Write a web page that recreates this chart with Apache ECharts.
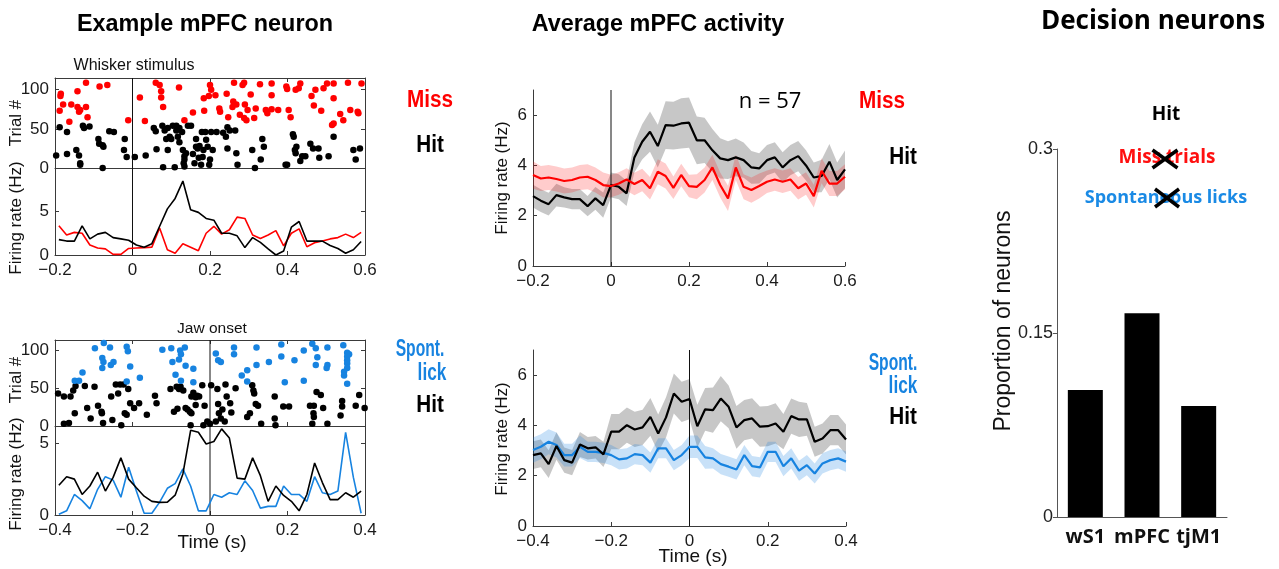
<!DOCTYPE html>
<html>
<head>
<meta charset="utf-8">
<script src="https://cdn.jsdelivr.net/npm/echarts@6/dist/echarts.min.js"></script>
<style>
  html, body { margin: 0; padding: 0; background: #fff; }
  #chart { width: 1279px; height: 569px; }
</style>
</head>
<body>
<div id="chart"></div>
<script>
// ---------- Example neuron: whisker-aligned raster (time s, trial #) ----------
const missRasterTop = [[-0.186,92],[-0.185,95],[-0.188,73],[-0.179,81],[-0.158,81],[-0.163,59],[-0.142,98],[-0.142,78],[-0.138,72],[-0.135,74],[-0.120,109],[-0.120,78],[-0.116,65],[-0.085,104],[-0.065,106],[-0.011,61],[0.019,90],[0.032,60],[0.060,109],[0.070,106],[0.074,98],[0.074,90],[0.079,78],[0.120,103],[0.134,61],[0.156,71],[0.184,89],[0.185,73],[0.197,92],[0.200,106],[0.203,100],[0.214,93],[0.224,76],[0.226,72],[0.243,95],[0.247,65],[0.258,78],[0.260,85],[0.262,109],[0.268,81],[0.277,68],[0.284,106],[0.288,109],[0.290,81],[0.297,74],[0.288,64],[0.294,61],[0.305,94],[0.314,64],[0.318,76],[0.329,107],[0.344,74],[0.348,70],[0.359,108],[0.359,93],[0.359,75],[0.376,74],[0.397,104],[0.399,101],[0.403,74],[0.408,65],[0.421,100],[0.429,102],[0.433,108],[0.462,92],[0.468,80],[0.472,100],[0.487,73],[0.493,102],[0.502,108],[0.519,108],[0.519,89],[0.519,57],[0.515,55],[0.536,69],[0.544,61],[0.556,109],[0.562,74],[0.581,72],[0.583,70],[0.591,108]];
const hitRasterTop = [[-0.197,16],[-0.188,52],[-0.169,46],[-0.169,18],[-0.145,23],[-0.138,16],[-0.135,6],[-0.135,4],[-0.128,54],[-0.125,51],[-0.111,53],[-0.088,37],[-0.086,31],[-0.077,29],[-0.075,27],[-0.077,0],[-0.060,47],[-0.048,46],[-0.020,37],[-0.022,23],[-0.015,14],[0.006,14],[0.034,16],[0.055,51],[0.060,47],[0.062,24],[0.079,1],[0.077,54],[0.083,48],[0.087,37],[0.091,23],[0.091,51],[0.096,40],[0.100,37],[0.104,54],[0.109,1],[0.113,54],[0.113,48],[0.117,40],[0.121,51],[0.121,33],[0.128,46],[0.130,23],[0.132,6],[0.134,15],[0.134,11],[0.134,2],[0.138,19],[0.143,54],[0.151,54],[0.156,18],[0.160,6],[0.164,37],[0.164,27],[0.168,25],[0.171,13],[0.173,28],[0.177,4],[0.179,46],[0.181,14],[0.183,23],[0.188,46],[0.190,36],[0.194,27],[0.198,4],[0.200,11],[0.203,46],[0.207,23],[0.217,46],[0.234,45],[0.241,40],[0.245,52],[0.245,25],[0.251,48],[0.265,48],[0.268,19],[0.271,4],[0.309,23],[0.316,0],[0.331,11],[0.335,37],[0.339,27],[0.395,4],[0.399,4],[0.414,43],[0.416,40],[0.419,23],[0.421,19],[0.423,27],[0.438,15],[0.433,9],[0.446,15],[0.459,31],[0.466,25],[0.480,25],[0.482,13],[0.506,15],[0.519,40],[0.570,23],[0.576,11],[0.587,25]];

// ---------- Example neuron: PSTH around whisker stimulus (Hz) ----------
const binsWhisker = [-0.19,-0.17,-0.15,-0.13,-0.11,-0.09,-0.07,-0.05,-0.03,-0.01,0.01,0.03,0.05,0.07,0.09,0.11,0.13,0.15,0.17,0.19,0.21,0.23,0.25,0.27,0.29,0.31,0.33,0.35,0.37,0.39,0.41,0.43,0.45,0.47,0.49,0.51,0.53,0.55,0.57,0.59];
const hitRateTop  = [1.77,1.6,1.6,3.35,1.85,2.4,2.6,2.0,1.85,1.7,1.15,0.9,1.3,3.3,5.3,6.5,8.5,5.2,4.9,4.2,4.0,2.5,2.5,2.2,0.85,2.0,1.45,0.7,0.0,0.45,3.2,3.85,1.6,1.6,1.6,1.1,0.75,0.2,0.6,1.55];
const missRateTop = [3.35,2.3,2.6,2.5,1.15,0.8,0.7,0.07,0.07,0.75,0.8,0.85,0.9,3.1,0.6,0.2,1.3,0.9,0.5,2.5,3.3,2.4,2.9,4.35,4.2,2.3,1.9,2.3,2.8,1.05,2.5,3.0,0.95,1.4,1.6,1.85,2.0,2.4,2.0,2.6];

// ---------- Example neuron: jaw-onset aligned raster ----------
const spontRasterBottom = [[-0.297,103],[-0.274,110],[-0.258,104],[-0.278,90],[-0.275,85],[-0.278,77],[-0.256,81],[-0.249,85],[-0.215,105],[-0.212,99],[-0.206,79],[-0.215,59],[-0.181,64],[-0.349,60],[-0.338,60],[-0.329,71],[-0.123,101],[-0.100,103],[-0.077,100],[-0.065,104],[-0.075,95],[-0.080,88],[-0.097,85],[-0.063,80],[-0.089,68],[-0.075,60],[-0.043,76],[-0.043,58],[0.015,96],[0.021,87],[0.028,85],[0.062,104],[0.062,95],[0.096,74],[0.082,67],[0.096,59],[0.120,104],[0.120,81],[0.152,85],[0.184,108],[0.184,92],[0.193,58],[0.218,87],[0.242,100],[0.242,60],[0.264,109],[0.273,103],[0.277,91],[0.273,81],[0.303,104],[0.303,81],[0.301,77],[0.344,107],[0.354,97],[0.359,95],[0.354,92],[0.354,87],[0.354,83],[0.354,77],[0.346,72],[0.346,67],[0.354,56]];
const hitRasterBottom = [[-0.392,43],[-0.377,39],[-0.360,39],[-0.377,3],[-0.364,4],[-0.353,47],[-0.349,17],[-0.347,53],[-0.323,53],[-0.317,24],[-0.308,10],[-0.298,52],[-0.289,27],[-0.280,19],[-0.279,17],[-0.276,4],[-0.255,39],[-0.252,8],[-0.243,55],[-0.237,43],[-0.232,55],[-0.223,55],[-0.229,1],[-0.220,17],[-0.215,15],[-0.211,49],[-0.206,30],[-0.196,24],[-0.183,30],[-0.163,15],[-0.142,40],[-0.138,30],[-0.102,49],[-0.093,19],[-0.086,52],[-0.084,23],[-0.080,49],[-0.076,52],[-0.063,24],[-0.058,22],[-0.052,19],[-0.048,17],[-0.069,47],[-0.048,39],[-0.043,44],[-0.037,38],[-0.033,40],[-0.028,39],[-0.020,54],[-0.037,28],[-0.050,1],[-0.017,1],[-0.014,27],[-0.007,6],[0.000,3],[0.003,54],[0.015,6],[0.019,49],[0.021,29],[0.023,17],[0.028,10],[0.032,22],[0.038,6],[0.040,55],[0.043,39],[0.052,30],[0.055,18],[0.066,50],[0.096,12],[0.103,17],[0.109,54],[0.112,47],[0.114,43],[0.118,29],[0.124,27],[0.132,3],[0.167,39],[0.167,10],[0.169,1],[0.189,26],[0.204,26],[0.258,27],[0.268,27],[0.267,17],[0.268,12],[0.264,3],[0.275,45],[0.286,41],[0.292,24],[0.303,3],[0.337,14],[0.341,33],[0.341,26],[0.376,27],[0.385,41],[0.399,24]];

// ---------- Example neuron: PSTH around jaw onset (Hz) ----------
const binsJaw = [-0.39,-0.37,-0.35,-0.33,-0.31,-0.29,-0.27,-0.25,-0.23,-0.21,-0.19,-0.17,-0.15,-0.13,-0.11,-0.09,-0.07,-0.05,-0.03,-0.01,0.01,0.03,0.05,0.07,0.09,0.11,0.13,0.15,0.17,0.19,0.21,0.23,0.25,0.27,0.29,0.31,0.33,0.35,0.37,0.39];
const hitRateBottom   = [2.07,2.67,2.5,1.43,2.02,2.98,1.67,2.62,3.98,2.5,1.9,1.31,0.95,0.88,0.9,1.38,2.86,5.9,5.76,4.95,5.12,6.0,5.36,2.57,2.5,3.98,2.74,0.95,2.02,1.36,0.95,0.29,1.43,3.62,2.26,1.07,1.07,1.55,1.24,1.67];
const spontRateBottom = [0.05,0.29,1.43,1.0,0.43,1.79,2.67,2.43,1.24,3.33,1.67,0.12,0.12,0.9,1.86,2.19,3.21,2.02,0.29,0.29,1.43,1.24,1.55,1.43,2.38,1.71,0.48,0.6,0.6,2.02,1.43,1.43,0.95,2.67,1.55,1.43,1.67,5.76,2.62,0.12];

// ---------- Population average, whisker-aligned (mean and SEM, Hz) ----------
const binsAvgWhisker = [-0.2,-0.18,-0.16,-0.14,-0.12,-0.1,-0.08,-0.06,-0.04,-0.02,0,0.02,0.04,0.06,0.08,0.1,0.12,0.14,0.16,0.18,0.2,0.22,0.24,0.26,0.28,0.3,0.32,0.34,0.36,0.38,0.4,0.42,0.44,0.46,0.48,0.5,0.52,0.54,0.56,0.58,0.6];
const avgHitTop  = [2.78,2.6,2.46,2.82,2.73,2.66,2.66,2.38,2.69,2.42,3.22,3.15,2.89,4.32,4.94,5.34,4.77,5.6,5.58,5.67,5.7,5.0,5.0,4.6,4.28,4.21,4.32,4.21,3.92,3.88,4.21,4.32,3.92,4.21,4.37,4.0,3.52,3.58,4.15,3.42,3.84];
const semHitTop  = [0.45,0.45,0.45,0.45,0.4,0.4,0.4,0.4,0.45,0.5,0.5,0.5,0.5,0.6,0.7,0.8,0.85,0.95,0.95,1.0,1.0,0.95,0.9,0.85,0.8,0.75,0.75,0.7,0.65,0.6,0.6,0.6,0.6,0.6,0.6,0.6,0.6,0.65,0.7,0.7,0.75];
const avgMissTop = [3.62,3.48,3.52,3.46,3.38,3.42,3.52,3.55,3.42,3.22,3.18,3.28,3.44,3.26,3.42,3.09,3.75,3.58,3.11,3.62,3.18,3.15,3.42,3.92,3.22,2.69,3.92,3.15,3.02,3.18,3.35,3.44,3.35,3.44,3.09,3.28,2.78,3.79,3.28,3.28,3.55];
const semMissTop = [0.55,0.5,0.5,0.5,0.5,0.5,0.5,0.5,0.5,0.5,0.45,0.45,0.45,0.45,0.45,0.45,0.5,0.5,0.45,0.45,0.45,0.5,0.5,0.5,0.5,0.5,0.5,0.5,0.5,0.5,0.45,0.45,0.45,0.45,0.45,0.45,0.45,0.5,0.5,0.5,0.5];

// ---------- Population average, jaw-aligned (mean and SEM, Hz) ----------
const binsAvgJaw = [-0.4,-0.38,-0.36,-0.34,-0.32,-0.3,-0.28,-0.26,-0.24,-0.22,-0.2,-0.18,-0.16,-0.14,-0.12,-0.1,-0.08,-0.06,-0.04,-0.02,0,0.02,0.04,0.06,0.08,0.1,0.12,0.14,0.16,0.18,0.2,0.22,0.24,0.26,0.28,0.3,0.32,0.34,0.36,0.38,0.4];
const avgHitBottom   = [2.82,2.89,2.46,3.18,2.62,2.52,3.24,3.09,3.13,2.85,3.75,3.75,4.01,3.84,3.92,4.34,3.68,4.32,5.27,4.94,5.05,3.97,4.64,4.61,5.07,4.74,3.92,4.21,4.28,3.95,3.97,4.08,3.75,4.37,4.24,4.24,3.35,3.48,3.81,3.81,3.44];
const semHitBottom   = [0.55,0.55,0.55,0.55,0.5,0.5,0.5,0.45,0.45,0.5,0.7,0.7,0.7,0.7,0.7,0.75,0.75,0.8,0.8,0.8,0.8,0.85,0.85,0.9,0.9,0.85,0.85,0.8,0.8,0.8,0.8,0.8,0.7,0.7,0.7,0.65,0.6,0.6,0.6,0.6,0.6];
const avgSpontBottom = [3.02,3.15,3.35,3.22,2.82,2.82,3.15,2.95,2.95,2.91,2.82,2.65,2.69,2.86,2.82,2.52,3.09,3.09,2.62,2.82,3.15,3.15,2.73,2.69,2.46,2.36,2.25,2.82,2.38,2.33,2.95,2.95,2.38,2.69,2.2,2.42,2.09,2.49,2.62,2.69,2.56];
const semSpontBottom = [0.5,0.5,0.5,0.5,0.45,0.45,0.45,0.4,0.4,0.4,0.4,0.4,0.4,0.4,0.4,0.4,0.4,0.4,0.4,0.4,0.45,0.45,0.45,0.4,0.4,0.4,0.4,0.4,0.4,0.4,0.4,0.4,0.4,0.4,0.4,0.4,0.4,0.4,0.4,0.4,0.4];

// ---------- Decision neurons per area ----------
const areas = ['wS1', 'mPFC', 'tjM1'];
const decisionProportion = [0.1035, 0.166, 0.0905];

// ---------- tick labels ----------
const rasterTicks = [0, 50, 100];
const psthTopTicks = [0, 5];
const psthBottomTicks = [0, 5];
const avgTicks = [0, 2, 4, 6];

// ---------- styling ----------
const SANS = "'Liberation Sans', Arial, sans-serif";
const NARROW = "'Liberation Sans Narrow', 'Arial Narrow', 'Liberation Sans', sans-serif";
const OPEN = "'Open Sans', 'Liberation Sans', sans-serif";
const AX = '#3a3a3a';
const RED = '#ff0000';
const BLUE = '#1783e0';
const BLACK = '#000000';

const fmt = v => {
  const r = Math.round(v * 10) / 10;
  return String(r).replace('-', '\u2212');
};

const xAxes = [];
const yAxes = [];
const addX = c => { xAxes.push(c); return xAxes.length - 1; };
const addY = c => { yAxes.push(c); return yAxes.length - 1; };

function timeAxis(grid, min, max, pos, labels, tickLen) {
  return {
    type: 'value', gridIndex: grid, min, max, interval: 0.2, position: pos,
    axisLine: { show: true, onZero: false, lineStyle: { color: AX, width: 1 } },
    axisTick: { show: true, inside: true, length: tickLen, lineStyle: { color: AX } },
    axisLabel: { show: labels, color: '#1a1a1a', fontSize: 17, fontFamily: SANS, margin: 7, formatter: fmt },
    splitLine: { show: false }
  };
}
function valueAxis(grid, min, max, pos, labels, ticks, tickLen) {
  return {
    type: 'value', gridIndex: grid, min, max, position: pos,
    axisLine: { show: true, onZero: false, lineStyle: { color: AX, width: 1 } },
    axisTick: { show: ticks.length > 0, inside: true, length: tickLen, customValues: ticks, lineStyle: { color: AX } },
    axisLabel: { show: labels, customValues: ticks, color: '#1a1a1a', fontSize: 17, fontFamily: SANS, margin: 6 },
    splitLine: { show: false }
  };
}

const grids = [
  { left: 55, top: 78, width: 310, height: 90 },    // whisker raster
  { left: 55, top: 168, width: 310, height: 87 },   // whisker PSTH
  { left: 55, top: 340, width: 310, height: 86 },   // jaw raster
  { left: 55, top: 426, width: 310, height: 89 },   // jaw PSTH
  { left: 533, top: 90, width: 312, height: 176 },  // average whisker
  { left: 533, top: 350, width: 313, height: 176 }, // average jaw
  { left: 1057, top: 149, width: 170, height: 368 } // decision neurons
];

// boxed panels (box with inward ticks on all sides)
const x0 = addX(timeAxis(0, -0.2, 0.6, 'bottom', false, 4));
addX(timeAxis(0, -0.2, 0.6, 'top', false, 4));
const y0 = addY(valueAxis(0, 0, 115, 'left', true, rasterTicks, 4));
addY(valueAxis(0, 0, 115, 'right', false, rasterTicks, 4));

const x1 = addX(timeAxis(1, -0.2, 0.6, 'bottom', true, 4));
const y1 = addY(valueAxis(1, 0, 10, 'left', true, psthTopTicks, 4));
addY(valueAxis(1, 0, 10, 'right', false, psthTopTicks, 4));

const x2 = addX(timeAxis(2, -0.4, 0.4, 'bottom', false, 4));
addX(timeAxis(2, -0.4, 0.4, 'top', false, 4));
const y2 = addY(valueAxis(2, 0, 114, 'left', true, rasterTicks, 4));
addY(valueAxis(2, 0, 114, 'right', false, rasterTicks, 4));

const x3 = addX(timeAxis(3, -0.4, 0.4, 'bottom', true, 4));
const y3 = addY(valueAxis(3, 0, 6.2, 'left', true, psthBottomTicks, 4));
addY(valueAxis(3, 0, 6.2, 'right', false, psthBottomTicks, 4));

// population panels: left and bottom axes only
const x4 = addX(timeAxis(4, -0.2, 0.6, 'bottom', true, 4));
const y4 = addY(valueAxis(4, 0, 7, 'left', true, avgTicks, 4));
const x5 = addX(timeAxis(5, -0.4, 0.4, 'bottom', true, 4));
const y5 = addY(valueAxis(5, 0, 7, 'left', true, avgTicks, 4));

// decision neuron bars
const x6 = addX({
  type: 'category', gridIndex: 6, data: areas,
  axisLine: { show: true, lineStyle: { color: '#555', width: 1 } },
  axisTick: { show: false },
  axisLabel: { interval: 0, hideOverlap: false, color: '#111', fontFamily: OPEN, fontWeight: 700, fontSize: 20, margin: 10 }
});
const y6 = addY({
  type: 'value', gridIndex: 6, min: 0, max: 0.3, interval: 0.15,
  axisLine: { show: true, lineStyle: { color: '#555', width: 1 } },
  axisTick: { show: true, inside: false, length: 4, lineStyle: { color: '#555' } },
  axisLabel: { color: '#222', fontFamily: NARROW, fontSize: 18, margin: 4, formatter: v => String(v) },
  splitLine: { show: false }
});

const pairs = (xs, ys) => xs.map((x, i) => [x, ys[i]]);

function scatter(xi, yi, data, color) {
  return { type: 'scatter', xAxisIndex: xi, yAxisIndex: yi, data, symbol: 'circle', symbolSize: 6.5,
    itemStyle: { color, opacity: 1 }, silent: true, z: 3 };
}
function trace(xi, yi, xs, ys, color, width) {
  return { type: 'line', xAxisIndex: xi, yAxisIndex: yi, data: pairs(xs, ys), showSymbol: false,
    symbol: 'none', lineStyle: { color, width }, silent: true, z: 4 };
}
function zeroLine(xi, yi, top) {
  return { type: 'line', xAxisIndex: xi, yAxisIndex: yi, data: [[0, 0], [0, top]], showSymbol: false,
    symbol: 'none', lineStyle: { color: '#111', width: 1 }, silent: true, z: 2 };
}
function band(xi, yi, xs, mean, sem, fill) {
  return {
    type: 'custom', xAxisIndex: xi, yAxisIndex: yi, silent: true, z: 1,
    data: [[xs[0], mean[0]]],
    renderItem: (params, api) => {
      const pts = [];
      for (let i = 0; i < xs.length; i++) pts.push(api.coord([xs[i], mean[i] + sem[i]]));
      for (let i = xs.length - 1; i >= 0; i--) pts.push(api.coord([xs[i], mean[i] - sem[i]]));
      return { type: 'polygon', shape: { points: pts }, style: { fill, stroke: null } };
    }
  };
}

const series = [
  // whisker raster
  zeroLine(x0, y0, 115),
  scatter(x0, y0, hitRasterTop, BLACK),
  scatter(x0, y0, missRasterTop, RED),
  // whisker PSTH
  zeroLine(x1, y1, 10),
  trace(x1, y1, binsWhisker, missRateTop, RED, 1.6),
  trace(x1, y1, binsWhisker, hitRateTop, BLACK, 1.6),
  // jaw raster
  zeroLine(x2, y2, 114),
  scatter(x2, y2, hitRasterBottom, BLACK),
  scatter(x2, y2, spontRasterBottom, BLUE),
  // jaw PSTH
  zeroLine(x3, y3, 6.2),
  trace(x3, y3, binsJaw, spontRateBottom, BLUE, 1.6),
  trace(x3, y3, binsJaw, hitRateBottom, BLACK, 1.6),
  // population whisker
  band(x4, y4, binsAvgWhisker, avgHitTop, semHitTop, 'rgba(0,0,0,0.22)'),
  band(x4, y4, binsAvgWhisker, avgMissTop, semMissTop, 'rgba(255,0,0,0.2)'),
  zeroLine(x4, y4, 7),
  trace(x4, y4, binsAvgWhisker, avgHitTop, BLACK, 2.2),
  trace(x4, y4, binsAvgWhisker, avgMissTop, RED, 2.2),
  // population jaw
  band(x5, y5, binsAvgJaw, avgHitBottom, semHitBottom, 'rgba(0,0,0,0.22)'),
  band(x5, y5, binsAvgJaw, avgSpontBottom, semSpontBottom, 'rgba(23,131,224,0.24)'),
  zeroLine(x5, y5, 7),
  trace(x5, y5, binsAvgJaw, avgSpontBottom, BLUE, 2.2),
  trace(x5, y5, binsAvgJaw, avgHitBottom, BLACK, 2.2),
  // decision neurons
  { type: 'bar', xAxisIndex: x6, yAxisIndex: y6, data: decisionProportion, barWidth: 35,
    itemStyle: { color: '#000' }, silent: true }
];

function txt(text, x, y, font, fill, extra) {
  return Object.assign({ type: 'text', x, y, silent: true, z: 10,
    style: { text, font, fill, textAlign: 'center', textVerticalAlign: 'middle' } }, extra || {});
}
function vtxt(text, x, y, font, fill) {
  return txt(text, x, y, font, fill, { rotation: Math.PI / 2 });
}
function cross(cx, cy, w, h) {
  const s = { stroke: '#000', lineWidth: 3.5, lineCap: 'butt' };
  return [
    { type: 'line', silent: true, z: 11, shape: { x1: cx - w / 2, y1: cy - h / 2, x2: cx + w / 2, y2: cy + h / 2 }, style: s },
    { type: 'line', silent: true, z: 11, shape: { x1: cx - w / 2, y1: cy + h / 2, x2: cx + w / 2, y2: cy - h / 2 }, style: s }
  ];
}

const graphic = [
  txt('Example mPFC neuron', 205, 24, 'bold 24px ' + SANS, '#000', { scaleX: 0.975 }),
  txt('Average mPFC activity', 658, 24, 'bold 24px ' + SANS, '#000', { scaleX: 0.975 }),
  txt('Decision neurons', 1153, 22, '700 26px ' + OPEN, '#000'),

  txt('Whisker stimulus', 134, 66, '16px ' + SANS, '#111'),
  txt('Jaw onset', 212, 329, '15.5px ' + SANS, '#111'),
  vtxt('Trial #', 16, 123, '17px ' + NARROW, '#111'),
  vtxt('Firing rate (Hz)', 16, 218, '17px ' + NARROW, '#111'),
  vtxt('Trial #', 16, 380, '17px ' + NARROW, '#111'),
  vtxt('Firing rate (Hz)', 16, 474, '17px ' + NARROW, '#111'),
  txt('Time (s)', 212, 543, '19px ' + SANS, '#111'),

  txt('Miss', 430, 101, 'bold 23px ' + SANS, RED, { scaleX: 0.9 }),
  txt('Hit', 430, 146, 'bold 23px ' + SANS, '#000', { scaleX: 0.9 }),
  txt('Spont.', 420, 350, 'bold 23px ' + SANS, BLUE, { scaleX: 0.68 }),
  txt('lick', 432, 374, 'bold 23px ' + SANS, BLUE, { scaleX: 0.75 }),
  txt('Hit', 430, 406, 'bold 23px ' + SANS, '#000', { scaleX: 0.9 }),

  vtxt('Firing rate (Hz)', 502, 178, '17px ' + SANS, '#111'),
  vtxt('Firing rate (Hz)', 502, 439, '17px ' + SANS, '#111'),
  txt('Time (s)', 693, 557, '19px ' + SANS, '#111'),
  txt('n = 57', 770, 102, '22px ' + OPEN, '#000'),

  txt('Miss', 882, 102, 'bold 23px ' + SANS, RED, { scaleX: 0.9 }),
  txt('Hit', 903, 158, 'bold 23px ' + SANS, '#000', { scaleX: 0.9 }),
  txt('Spont.', 893, 364, 'bold 23px ' + SANS, BLUE, { scaleX: 0.68 }),
  txt('lick', 903, 387, 'bold 23px ' + SANS, BLUE, { scaleX: 0.75 }),
  txt('Hit', 903, 418, 'bold 23px ' + SANS, '#000', { scaleX: 0.9 }),

  txt('Hit', 1166, 115, '700 19px ' + OPEN, '#000'),
  txt('Miss trials', 1167, 158, '700 19px ' + OPEN, '#ff1010'),
  txt('Spontaneous licks', 1166, 198, '700 18px ' + OPEN, '#1a8ae5'),
  ...cross(1165, 159, 25, 18),
  ...cross(1167, 198, 24, 18),
  vtxt('Proportion of neurons', 1004, 321, '23px ' + NARROW, '#111')
];

const chart = echarts.init(document.getElementById('chart'), null, { renderer: 'canvas' });
chart.setOption({
  animation: false,
  backgroundColor: '#fff',
  grid: grids,
  xAxis: xAxes,
  yAxis: yAxes,
  series,
  graphic
});
</script>
</body>
</html>
